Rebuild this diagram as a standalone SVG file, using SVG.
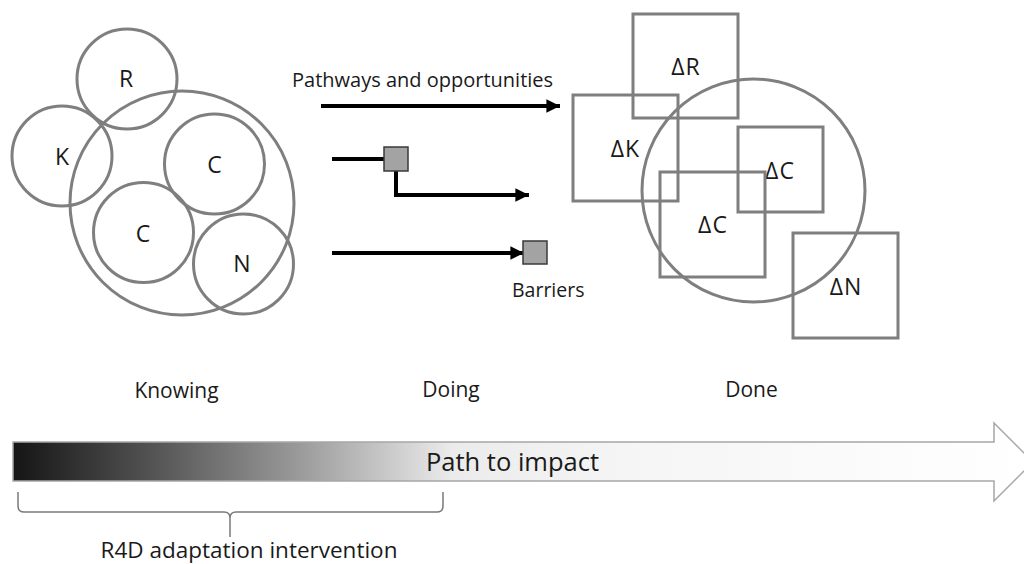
<svg xmlns="http://www.w3.org/2000/svg" width="1024" height="564" viewBox="0 0 1024 564">
  <defs>
    <style>
      .ring { fill: none; stroke: #7f7f7f; stroke-width: 3; }
      .box { fill: none; stroke: #7f7f7f; stroke-width: 3; }
      .lbl { font-family: "Open Sans", "Liberation Sans", sans-serif; fill: #1a1a1a; }
      .big { font-size: 23px; text-anchor: middle; }
      .delta { font-size: 23px; text-anchor: middle; letter-spacing: 1px; }
      .stage { font-size: 21px; text-anchor: middle; }
      .flow { fill: none; stroke: #000; stroke-width: 4; }
      .gate { fill: #a3a3a3; stroke: #3a3a3a; stroke-width: 1.5; }
    </style>
    <marker id="head" viewBox="0 0 10 10" refX="10" refY="5" markerWidth="3.4" markerHeight="3.4" markerUnits="strokeWidth" orient="auto">
      <path d="M0,0 L10,5 L0,10 Z" fill="#000"/>
    </marker>
    <linearGradient id="impact" gradientUnits="userSpaceOnUse" x1="13" y1="0" x2="1033" y2="0">
      <stop offset="0" stop-color="#151515"/>
      <stop offset="0.14" stop-color="#555555"/>
      <stop offset="0.28" stop-color="#9a9a9a"/>
      <stop offset="0.43" stop-color="#ebebeb"/>
      <stop offset="0.6" stop-color="#f5f5f5"/>
      <stop offset="1" stop-color="#ffffff"/>
    </linearGradient>
  </defs>

  <!-- Knowing: overlapping capitals -->
  <g id="knowing">
    <circle class="ring" cx="182" cy="203" r="112"/>
    <g id="cap-R">
      <circle class="ring" cx="127" cy="79" r="50"/>
      <text class="lbl big" x="126" y="87">R</text>
    </g>
    <g id="cap-K">
      <circle class="ring" cx="62" cy="156" r="50"/>
      <text class="lbl big" x="62" y="165">K</text>
    </g>
    <g id="cap-C1">
      <circle class="ring" cx="214.5" cy="164" r="50"/>
      <text class="lbl big" x="214.5" y="173">C</text>
    </g>
    <g id="cap-C2">
      <circle class="ring" cx="143.5" cy="232.5" r="50"/>
      <text class="lbl big" x="143" y="242">C</text>
    </g>
    <g id="cap-N">
      <circle class="ring" cx="243.5" cy="264" r="50"/>
      <text class="lbl big" x="242" y="272">N</text>
    </g>
  </g>

  <!-- Doing: pathways, detours and barriers -->
  <g id="connectors">
    <line class="flow" x1="321" y1="106" x2="560" y2="106" marker-end="url(#head)"/>
    <line class="flow" x1="332" y1="159" x2="384" y2="159"/>
    <polyline class="flow" points="396,171 396,195 529,195" marker-end="url(#head)"/>
    <line class="flow" x1="332" y1="253" x2="524" y2="253" marker-end="url(#head)"/>
  </g>
  <g id="pathways-label">
    <text class="lbl" x="292" y="87" font-size="20">Pathways and opportunities</text>
  </g>
  <g id="gate-1">
    <rect class="gate" x="384" y="147" width="24" height="24"/>
  </g>
  <g id="gate-2">
    <rect class="gate" x="523" y="241" width="24" height="23"/>
    <text class="lbl" x="512" y="297" font-size="19.5">Barriers</text>
  </g>

  <!-- Done: changed capitals -->
  <g id="done">
    <circle class="ring" cx="753.5" cy="190.5" r="111.5"/>
    <g id="delta-R">
      <rect class="box" x="633" y="14" width="105" height="104"/>
      <text class="lbl delta" x="686" y="75">ΔR</text>
    </g>
    <g id="delta-K">
      <rect class="box" x="573" y="95" width="105" height="106"/>
      <text class="lbl delta" x="625.5" y="157">ΔK</text>
    </g>
    <g id="delta-C1">
      <rect class="box" x="738" y="127" width="85" height="85"/>
      <text class="lbl delta" x="780" y="179">ΔC</text>
    </g>
    <g id="delta-C2">
      <rect class="box" x="660" y="172" width="105" height="105"/>
      <text class="lbl delta" x="713" y="233">ΔC</text>
    </g>
    <g id="delta-N">
      <rect class="box" x="793" y="233" width="105" height="105"/>
      <text class="lbl delta" x="846" y="295">ΔN</text>
    </g>
  </g>

  <!-- Stage captions -->
  <g id="stages">
    <text class="lbl stage" x="176.5" y="398">Knowing</text>
    <text class="lbl stage" x="451" y="397">Doing</text>
    <text class="lbl stage" x="751.5" y="397">Done</text>
  </g>

  <!-- Path to impact arrow -->
  <g id="impact-arrow">
    <path d="M13,442 L994,442 L994,423 L1033,462 L994,501 L994,481 L13,481 Z" fill="url(#impact)" stroke="#a6a6a6" stroke-width="1.5"/>
    <text class="lbl" x="512.5" y="471" font-size="25.5" text-anchor="middle">Path to impact</text>
  </g>

  <!-- Intervention brace -->
  <g id="intervention">
    <path d="M18,492 L18,506 Q18,512 24,512 L224,512 Q230,512 230,518 L230,537 M230,518 Q230,512 236,512 L437,512 Q443,512 443,506 L443,492" fill="none" stroke="#7a7a7a" stroke-width="1.5"/>
    <text class="lbl" x="249" y="558" font-size="22.5" text-anchor="middle">R4D adaptation intervention</text>
  </g>
</svg>
